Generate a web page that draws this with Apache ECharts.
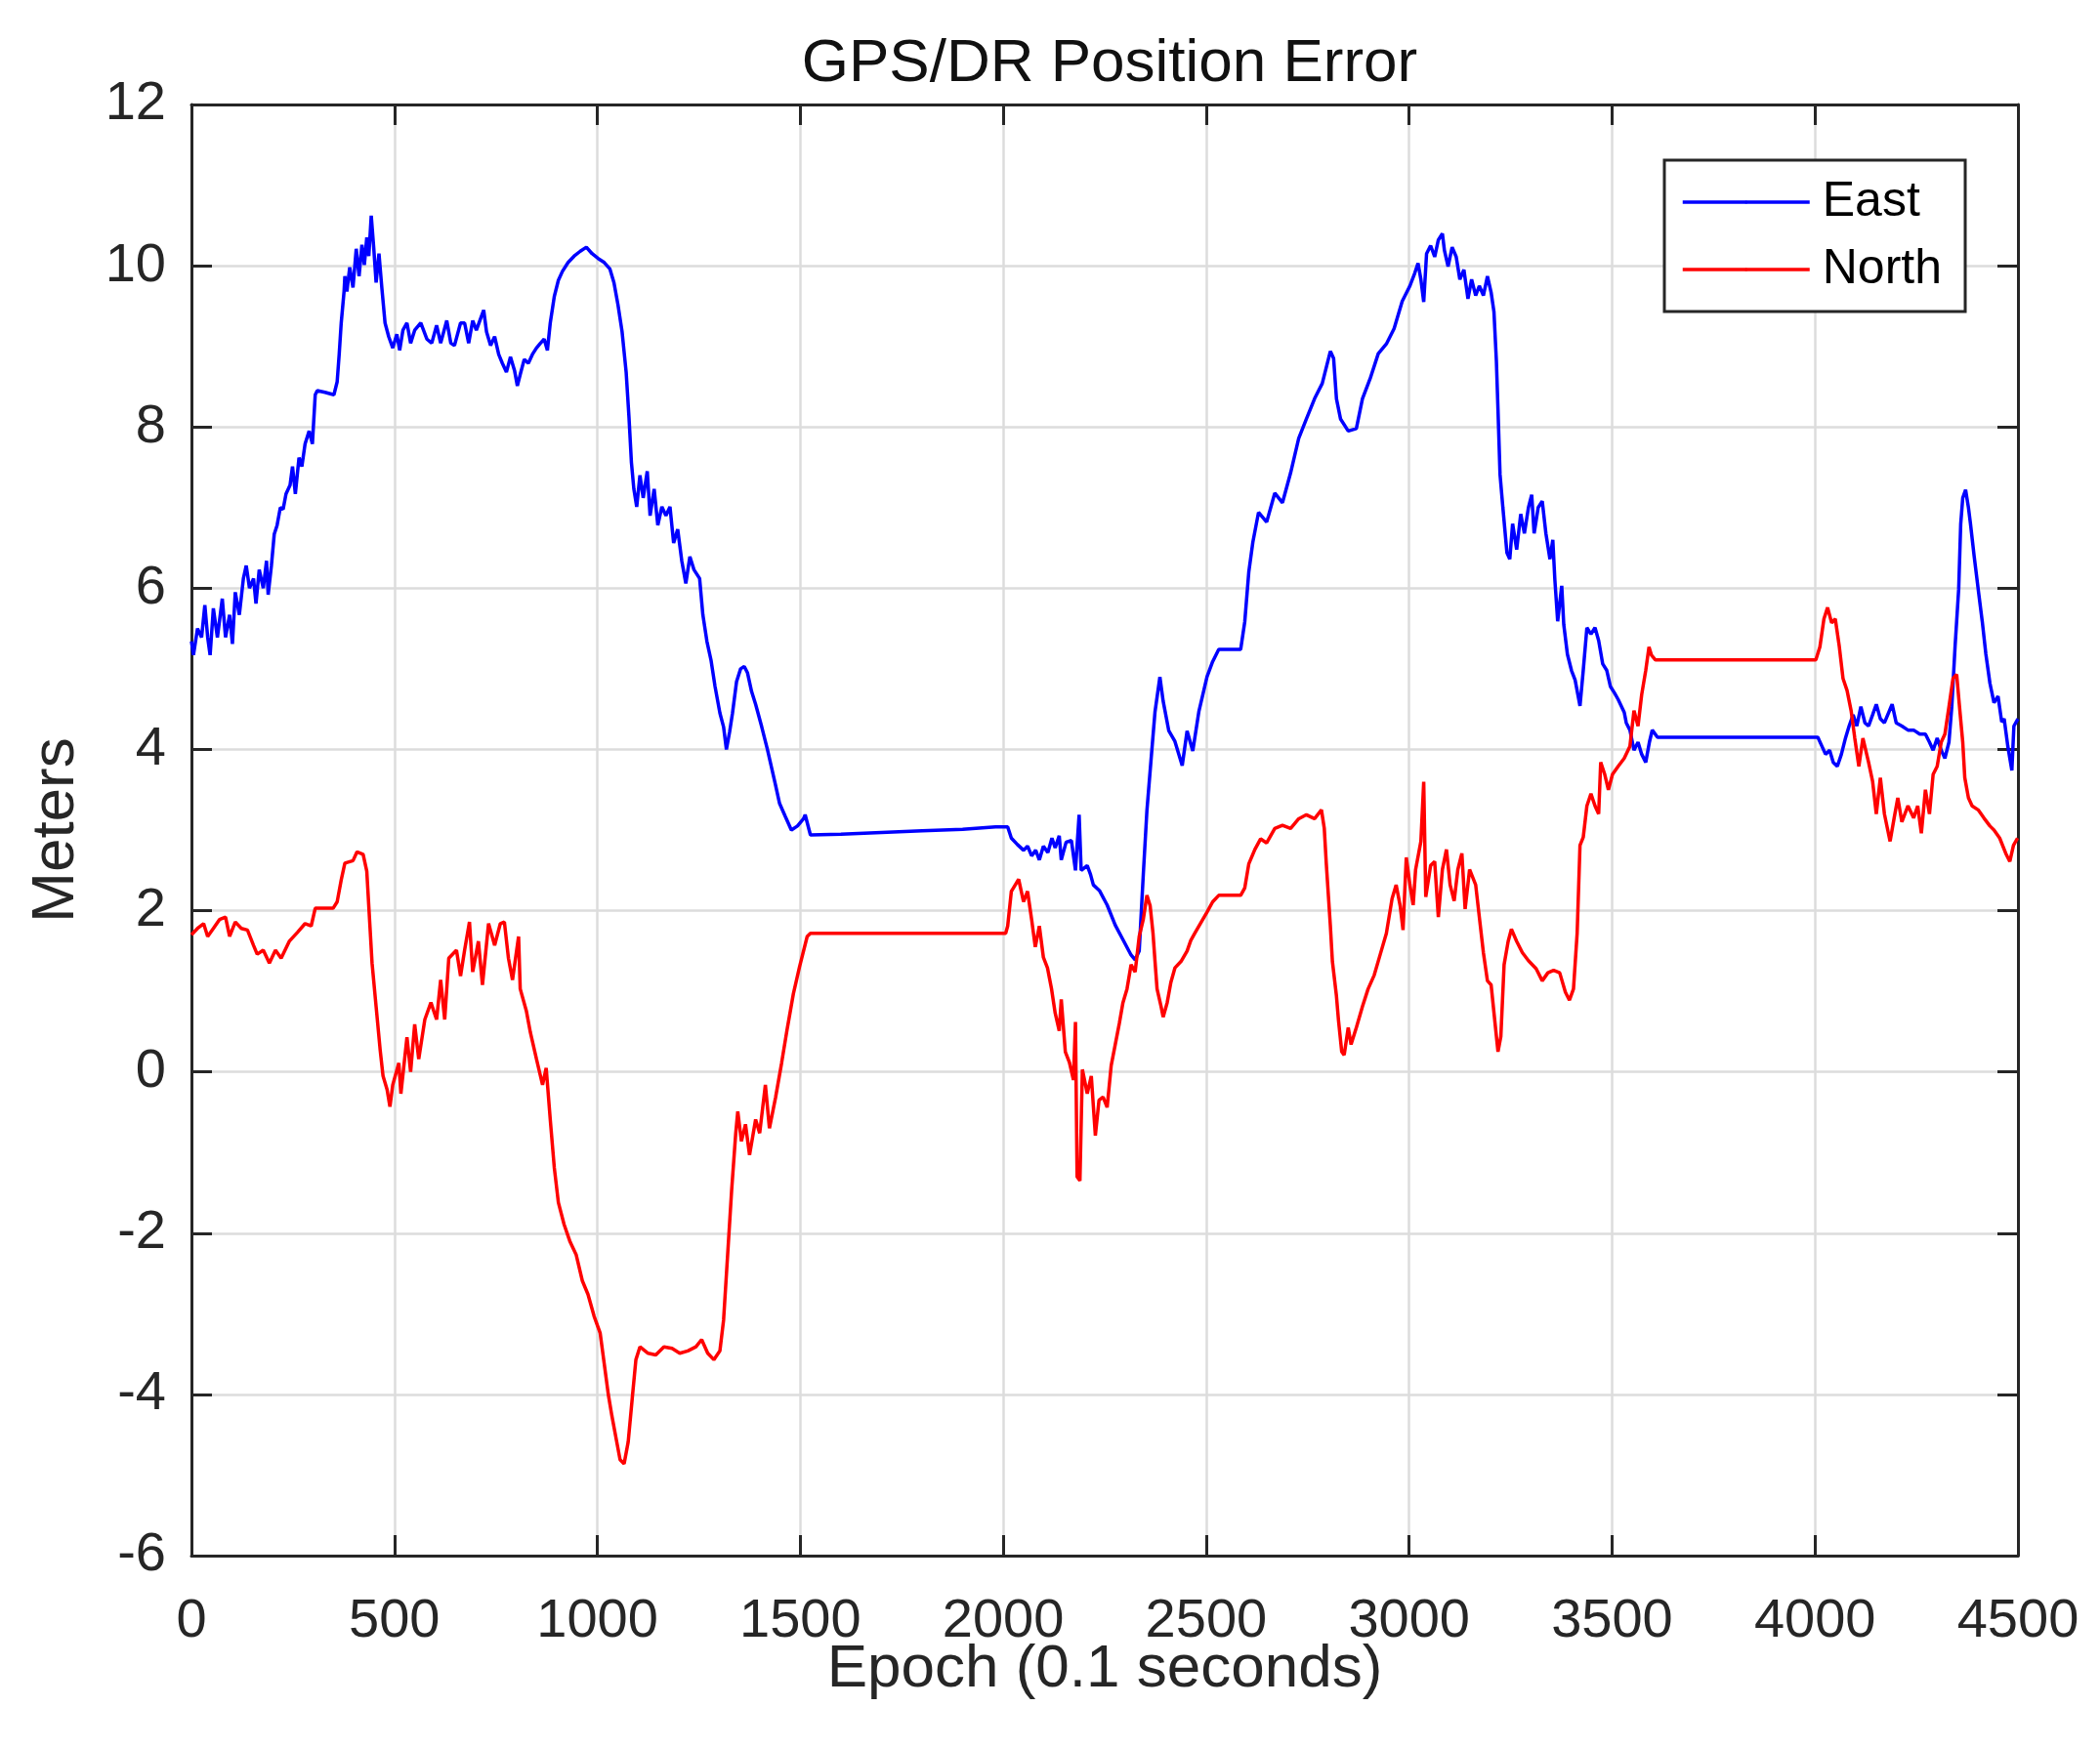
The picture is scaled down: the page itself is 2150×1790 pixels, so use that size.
<!DOCTYPE html>
<html>
<head>
<meta charset="utf-8">
<style>
  html, body { margin: 0; padding: 0; background: #ffffff; }
  #chart { width: 2150px; height: 1790px; }
</style>
<script src="https://cdn.jsdelivr.net/npm/echarts@6/dist/echarts.min.js"></script>
</head>
<body>
<div id="chart"></div>
<script>
// ---------------- DATA ----------------
const titleText = "GPS/DR Position Error";
const xLabel = "Epoch (0.1 seconds)";
const yLabel = "Meters";
const seriesNames = ["East", "North"];

const eastEpoch = [0,5,15,25,33,40,46,54,64,76,84,94,101,108,118,128,135,143,153,159,167,177,185,189,197,204,211,219,226,233,243,249,256,265,272,280,290,298,305,310,329,351,359,364,369,376,378,383,390,398,406,413,420,426,432,437,443,449,455,462,469,477,486,496,506,513,521,531,540,550,565,580,592,604,614,629,639,648,663,673,683,693,702,712,720,727,737,747,757,766,776,786,796,803,810,820,830,840,850,860,869,877,884,894,904,914,928,943,958,973,987,1002,1017,1031,1041,1051,1061,1071,1078,1084,1090,1097,1105,1113,1123,1130,1140,1149,1159,1169,1179,1188,1198,1208,1218,1228,1238,1252,1260,1270,1280,1290,1302,1311,1318,1326,1333,1343,1353,1362,1370,1380,1390,1405,1419,1429,1439,1449,1463,1478,1493,1508,1512,1525,1600,1700,1800,1900,1981,2011,2020,2035,2050,2060,2070,2080,2089,2099,2110,2120,2128,2138,2143,2155,2168,2178,2187,2192,2207,2215,2222,2237,2256,2276,2295,2315,2325,2335,2345,2354,2364,2374,2386,2394,2408,2423,2441,2453,2467,2482,2502,2516,2531,2585,2595,2605,2615,2629,2649,2669,2688,2708,2728,2747,2767,2786,2806,2814,2821,2831,2850,2870,2885,2904,2924,2944,2963,2983,3002,3014,3022,3029,3036,3043,3053,3063,3072,3082,3087,3096,3106,3116,3125,3135,3145,3154,3164,3173,3183,3193,3202,3209,3215,3219,3224,3231,3241,3248,3255,3265,3275,3284,3294,3302,3308,3318,3328,3337,3347,3354,3359,3366,3376,3381,3390,3400,3409,3421,3429,3438,3448,3458,3467,3477,3487,3496,3506,3515,3530,3535,3544,3554,3564,3573,3583,3592,3599,3612,4007,4017,4026,4036,4045,4055,4065,4075,4084,4094,4103,4113,4123,4132,4142,4151,4161,4171,4190,4200,4214,4229,4243,4258,4272,4282,4291,4301,4311,4320,4330,4337,4345,4354,4359,4364,4371,4378,4383,4392,4402,4412,4421,4431,4441,4451,4460,4466,4475,4485,4490,4500];
const eastValue = [5.34,5.17,5.5,5.39,5.79,5.39,5.17,5.75,5.39,5.87,5.39,5.67,5.31,5.95,5.67,6.12,6.28,6.0,6.12,5.81,6.23,6.0,6.34,5.92,6.28,6.67,6.78,7.0,6.98,7.17,7.28,7.51,7.17,7.62,7.51,7.79,7.95,7.79,8.4,8.45,8.43,8.4,8.56,8.9,9.29,9.68,9.87,9.68,9.98,9.73,10.21,9.87,10.26,10.01,10.35,10.12,10.62,10.23,9.79,10.15,9.73,9.29,9.12,8.98,9.15,8.95,9.2,9.29,9.04,9.2,9.29,9.09,9.04,9.26,9.04,9.32,9.04,9.01,9.29,9.29,9.04,9.32,9.2,9.34,9.45,9.18,9.01,9.12,8.9,8.79,8.68,8.87,8.7,8.51,8.65,8.84,8.79,8.9,8.98,9.04,9.09,8.95,9.29,9.62,9.82,9.93,10.04,10.12,10.18,10.23,10.15,10.09,10.04,9.96,9.79,9.51,9.18,8.68,8.12,7.56,7.23,7.01,7.4,7.12,7.45,6.9,7.23,6.78,7.01,6.9,7.01,6.56,6.73,6.34,6.06,6.39,6.23,6.12,5.67,5.34,5.11,4.78,4.45,4.28,4.0,4.22,4.45,4.84,5.0,5.03,4.95,4.72,4.56,4.28,4.0,3.78,3.56,3.33,3.17,3.0,3.05,3.14,3.19,2.94,2.95,2.97,2.99,3.01,3.04,3.04,2.9,2.82,2.75,2.8,2.68,2.75,2.63,2.8,2.72,2.9,2.78,2.93,2.63,2.85,2.87,2.5,3.19,2.5,2.56,2.45,2.32,2.25,2.07,1.82,1.64,1.45,1.39,1.5,2.44,3.24,3.86,4.47,4.9,4.6,4.23,4.1,3.8,4.23,3.98,4.47,4.9,5.09,5.24,5.24,5.58,6.2,6.57,6.94,6.82,7.18,7.06,7.43,7.86,8.1,8.35,8.54,8.94,8.85,8.35,8.1,7.95,7.98,8.35,8.6,8.91,9.03,9.22,9.56,9.75,9.91,10.03,9.83,9.55,10.15,10.25,10.11,10.32,10.4,10.19,9.99,10.23,10.11,9.83,9.95,9.59,9.83,9.63,9.75,9.63,9.87,9.67,9.43,8.82,8.21,7.41,7.0,6.44,6.36,6.8,6.48,6.92,6.68,7.0,7.16,6.68,7.0,7.08,6.68,6.36,6.6,6.11,5.59,6.03,5.55,5.18,4.98,4.86,4.54,4.98,5.51,5.43,5.51,5.35,5.06,4.98,4.78,4.7,4.62,4.46,4.33,4.24,3.99,4.09,3.94,3.84,4.09,4.24,4.15,4.15,4.04,3.94,3.99,3.84,3.79,3.94,4.14,4.29,4.43,4.29,4.53,4.33,4.29,4.43,4.56,4.38,4.33,4.56,4.33,4.29,4.24,4.24,4.19,4.19,4.09,3.99,4.14,3.99,3.89,4.09,4.53,5.27,5.99,6.8,7.12,7.22,7.0,6.8,6.4,5.99,5.59,5.18,4.82,4.58,4.66,4.34,4.38,4.04,3.74,4.29,4.38];

const northEpoch = [0,15,30,40,54,69,84,94,108,123,138,153,162,177,192,207,221,241,261,280,295,305,349,359,369,378,398,408,423,432,437,445,455,465,472,482,489,496,511,516,531,540,550,560,575,590,604,614,624,634,653,663,673,685,693,707,717,732,747,761,771,781,791,806,810,825,835,850,865,874,884,894,904,918,933,948,963,977,992,1007,1017,1027,1036,1046,1056,1066,1076,1086,1095,1105,1125,1144,1164,1184,1203,1223,1243,1257,1272,1287,1302,1311,1321,1331,1341,1346,1355,1365,1375,1390,1400,1414,1424,1439,1454,1468,1483,1498,1517,1525,2006,2011,2020,2025,2038,2050,2060,2070,2079,2089,2099,2109,2119,2128,2138,2143,2153,2163,2173,2178,2182,2189,2195,2207,2217,2227,2236,2246,2256,2266,2276,2286,2295,2305,2315,2325,2335,2345,2354,2362,2369,2374,2379,2389,2394,2404,2413,2423,2438,2453,2462,2472,2487,2502,2516,2531,2585,2595,2605,2620,2634,2649,2669,2688,2708,2728,2747,2767,2784,2791,2796,2806,2811,2821,2826,2834,2840,2850,2857,2870,2885,2899,2914,2929,2944,2958,2968,2978,2985,2993,3002,3010,3016,3029,3036,3041,3053,3063,3072,3082,3092,3101,3111,3120,3130,3138,3149,3164,3173,3183,3193,3202,3212,3219,3226,3234,3244,3252,3265,3279,3294,3313,3328,3342,3356,3371,3385,3395,3405,3414,3421,3429,3438,3448,3458,3467,3472,3482,3491,3501,3515,3530,3544,3554,3564,3573,3583,3591,3597,3607,4002,4012,4022,4031,4041,4050,4060,4069,4079,4089,4098,4108,4118,4132,4142,4151,4161,4171,4185,4195,4204,4214,4229,4243,4253,4262,4272,4282,4291,4301,4311,4320,4330,4340,4349,4356,4364,4369,4378,4387,4402,4416,4431,4441,4455,4470,4480,4489,4499];
const northValue = [1.7,1.78,1.84,1.68,1.78,1.89,1.92,1.68,1.86,1.78,1.76,1.57,1.46,1.51,1.35,1.51,1.41,1.62,1.73,1.84,1.81,2.03,2.03,2.11,2.38,2.59,2.62,2.73,2.7,2.49,2.05,1.35,0.81,0.27,-0.05,-0.22,-0.43,-0.16,0.11,-0.27,0.43,0.0,0.59,0.16,0.65,0.86,0.65,1.14,0.65,1.41,1.51,1.19,1.51,1.86,1.24,1.62,1.08,1.84,1.57,1.84,1.86,1.41,1.14,1.68,1.03,0.76,0.49,0.16,-0.16,0.05,-0.59,-1.19,-1.62,-1.89,-2.11,-2.27,-2.59,-2.76,-3.03,-3.24,-3.62,-4.0,-4.27,-4.54,-4.81,-4.86,-4.59,-4.05,-3.57,-3.41,-3.49,-3.51,-3.41,-3.43,-3.49,-3.46,-3.41,-3.32,-3.49,-3.57,-3.46,-3.08,-2.27,-1.46,-0.76,-0.49,-0.86,-0.65,-1.03,-0.59,-0.76,-0.16,-0.7,-0.32,0.11,0.54,0.97,1.3,1.68,1.72,1.72,1.81,2.24,2.28,2.39,2.11,2.24,1.89,1.55,1.81,1.42,1.29,1.03,0.73,0.51,0.9,0.25,0.12,-0.1,0.62,-1.3,-1.35,0.03,-0.27,-0.05,-0.79,-0.35,-0.31,-0.44,0.08,0.34,0.6,0.86,1.03,1.33,1.24,1.68,1.89,2.19,2.06,1.72,1.37,1.03,0.81,0.68,0.86,1.11,1.29,1.37,1.5,1.63,1.72,1.85,1.98,2.11,2.19,2.19,2.28,2.58,2.76,2.89,2.84,3.02,3.06,3.02,3.14,3.19,3.14,3.25,3.02,2.58,1.81,1.37,0.94,0.64,0.25,0.21,0.55,0.34,0.55,0.81,1.03,1.2,1.46,1.72,2.15,2.32,2.06,1.76,2.66,2.32,2.07,2.51,2.86,3.6,2.17,2.56,2.61,1.92,2.51,2.76,2.32,2.12,2.51,2.71,2.02,2.51,2.32,1.92,1.48,1.13,1.08,0.59,0.25,0.44,1.33,1.62,1.77,1.62,1.48,1.38,1.28,1.13,1.23,1.26,1.23,0.99,0.89,1.03,1.72,2.81,2.91,3.3,3.45,3.3,3.2,3.84,3.69,3.5,3.69,3.79,3.89,4.04,4.48,4.29,4.68,4.98,5.27,5.17,5.11,5.11,5.27,5.62,5.76,5.57,5.62,5.27,4.88,4.73,4.48,4.14,3.79,4.14,3.84,3.6,3.2,3.65,3.2,2.86,3.15,3.4,3.1,3.3,3.15,3.3,2.96,3.5,3.2,3.69,3.79,4.09,4.19,4.53,4.88,4.93,4.53,4.09,3.65,3.4,3.3,3.25,3.15,3.05,3.0,2.9,2.71,2.61,2.81,2.9];

const xMin = 0, xMax = 4500, xStep = 500;
const yMin = -6, yMax = 12, yStep = 2;

// ---------------- CHART ----------------
const zip = (xs, ys) => xs.map((x, i) => [x, ys[i]]);
const FONT = "'Liberation Sans', Arial, Helvetica, sans-serif";
const AX = '#262626';
const GRID = '#dcdcdc';
const plainNum = v => String(v);

const chart = echarts.init(document.getElementById('chart'), null, { renderer: 'canvas' });

function xAx(pos, main) {
  return {
    type: 'value', position: pos, min: xMin, max: xMax, interval: xStep,
    name: main ? xLabel : '', nameLocation: 'middle', nameGap: 86, nameMoveOverlap: false,
    nameTextStyle: { fontFamily: FONT, fontSize: 62, color: AX },
    axisLine: { show: true, onZero: false, lineStyle: { color: AX, width: 3 } },
    axisTick: { show: true, inside: true, length: 21, lineStyle: { color: AX, width: 3 } },
    axisLabel: { show: main, fontFamily: FONT, fontSize: 56, color: AX, margin: 40, formatter: plainNum },
    splitLine: { show: main, lineStyle: { color: GRID, width: 2.5 } }
  };
}
function yAx(pos, main) {
  return {
    type: 'value', position: pos, min: yMin, max: yMax, interval: yStep,
    name: main ? yLabel : '', nameLocation: 'middle', nameGap: 107,
    nameTextStyle: { fontFamily: FONT, fontSize: 62, color: AX },
    axisLine: { show: true, onZero: false, lineStyle: { color: AX, width: 3 } },
    axisTick: { show: true, inside: true, length: 21, lineStyle: { color: AX, width: 3 } },
    axisLabel: { show: main, fontFamily: FONT, fontSize: 56, color: AX, margin: 26, formatter: plainNum },
    splitLine: { show: main, lineStyle: { color: GRID, width: 2.5 } }
  };
}

chart.setOption({
  animation: false,
  backgroundColor: '#ffffff',
  title: {
    text: titleText, left: 1131, top: 30, textAlign: 'center',
    textStyle: { fontFamily: FONT, fontSize: 62, fontWeight: 'normal', color: '#111' }
  },
  grid: { left: 196, top: 107, right: 84, bottom: 197, containLabel: false },
  legend: {
    orient: 'vertical', left: 1704, top: 164,
    padding: [15, 24, 15, 17], itemGap: 13,
    itemWidth: 130, itemHeight: 4,
    lineStyle: { width: 3.5 },
    backgroundColor: '#ffffff', borderColor: AX, borderWidth: 3, borderRadius: 0,
    textStyle: { fontFamily: FONT, fontSize: 50, color: '#000', lineHeight: 56, padding: [0, 0, 0, 8] },
    data: seriesNames
  },
  xAxis: [xAx('bottom', true), xAx('top', false)],
  yAxis: [yAx('left', true), yAx('right', false)],
  series: [
    { name: seriesNames[0], type: 'line', xAxisIndex: 0, yAxisIndex: 0, data: zip(eastEpoch, eastValue),
      showSymbol: false, symbol: 'none', lineStyle: { color: '#0000ff', width: 3.5 }, itemStyle: { color: '#0000ff' } },
    { name: seriesNames[1], type: 'line', xAxisIndex: 0, yAxisIndex: 0, data: zip(northEpoch, northValue),
      showSymbol: false, symbol: 'none', lineStyle: { color: '#ff0000', width: 3.5 }, itemStyle: { color: '#ff0000' } }
  ]
});
</script>
</body>
</html>
